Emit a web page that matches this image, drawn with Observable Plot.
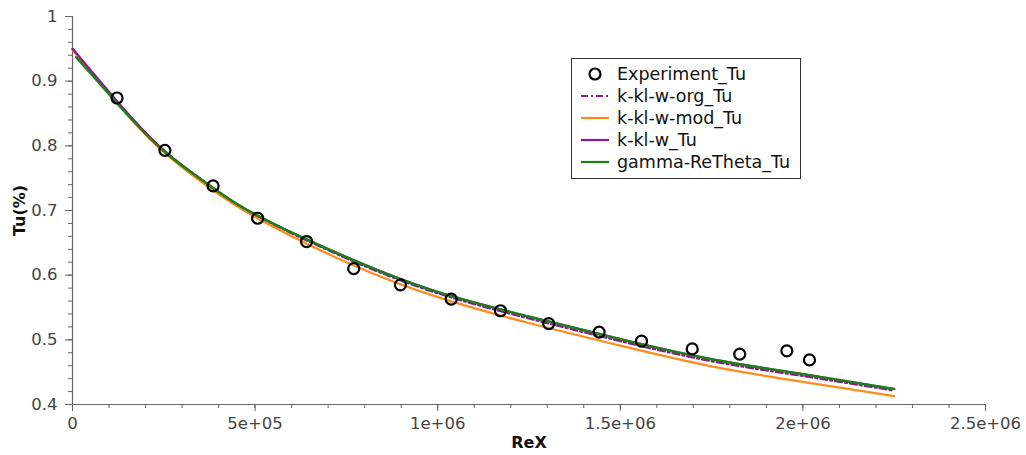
<!DOCTYPE html>
<html>
<head>
<meta charset="utf-8">
<script src="https://cdn.jsdelivr.net/npm/d3@7"></script>
<script src="https://cdn.jsdelivr.net/npm/@observablehq/plot@0.6"></script>
<style>
  html, body { margin: 0; padding: 0; background: #fff; }
  #chart { position: relative; width: 1026px; height: 455px; }
  svg { font-family: "DejaVu Sans", sans-serif; }
</style>
</head>
<body>
<div id="chart"></div>
<script>
// ---- data ----
const expX = [122000, 253000, 385000, 507000, 641000, 770000, 898000, 1037000, 1172000, 1304000, 1442000, 1558000, 1697000, 1827000, 1956000, 2018000];
const expY = [0.874, 0.793, 0.738, 0.688, 0.652, 0.610, 0.585, 0.563, 0.545, 0.525, 0.512, 0.498, 0.486, 0.478, 0.483, 0.469];

const curveX = [0, 125000, 250000, 375000, 500000, 750000, 1000000, 1250000, 1500000, 1750000, 2000000, 2250000];
const greenX = [10000, 125000, 250000, 375000, 500000, 750000, 1000000, 1250000, 1500000, 1750000, 2000000, 2250000];
const orgY   = [0.950, 0.866, 0.793, 0.738, 0.693, 0.626, 0.572, 0.533, 0.498, 0.467, 0.444, 0.4215];
const modY   = [0.948, 0.864, 0.790, 0.735, 0.690, 0.620, 0.566, 0.526, 0.491, 0.459, 0.435, 0.413];
const kklwY  = [0.950, 0.867, 0.793, 0.739, 0.694, 0.628, 0.574, 0.536, 0.501, 0.470, 0.447, 0.424];
const gammaY = [0.937, 0.864, 0.792, 0.739, 0.694, 0.628, 0.574, 0.536, 0.501, 0.470, 0.447, 0.424];

const seriesNames = ["Experiment_Tu", "k-kl-w-org_Tu", "k-kl-w-mod_Tu", "k-kl-w_Tu", "gamma-ReTheta_Tu"];
const seriesColors = ["#000000", "#8b1a8b", "#ff8c1a", "#8b1a8b", "#1a801a"];

const xMajor = [0, 500000, 1000000, 1500000, 2000000, 2500000];
const xLabels = ["0", "5e+05", "1e+06", "1.5e+06", "2e+06", "2.5e+06"];
const yMajor = [0.4, 0.5, 0.6, 0.7, 0.8, 0.9, 1.0];
const yLabels = ["0.4", "0.5", "0.6", "0.7", "0.8", "0.9", "1"];
const xMinor = d3.range(0, 2500001, 100000);
const yMinor = d3.range(0, 31).map(i => 0.4 + i * 0.02);

// ---- tables ----
const exp = expX.map((x, i) => ({x, y: expY[i]}));
const mk = (xsArr, ys) => xsArr.map((x, i) => ({x, y: ys[i]}));
const org = mk(curveX, orgY), mod = mk(curveX, modY), kklw = mk(curveX, kklwY), gamma = mk(greenX, gammaY);

const axisColor = "#666";
const labelColor = "#444";

const plot = Plot.plot({
  width: 1026,
  height: 455,
  marginLeft: 72,
  marginRight: 41,
  marginTop: 16,
  marginBottom: 51,
  style: {fontFamily: "DejaVu Sans, sans-serif", fontSize: "16px", background: "#fff", overflow: "visible"},
  x: {domain: [0, 2500000]},
  y: {domain: [0.4, 1]},
  marks: [
    // minor ticks
    Plot.axisX(xMinor, {tickSize: 4, text: null, stroke: axisColor, label: null}),
    Plot.axisY(yMinor, {tickSize: 4, text: null, stroke: axisColor, label: null}),
    // major ticks
    Plot.axisX(xMajor, {tickSize: 7, text: null, stroke: axisColor, label: null}),
    Plot.axisY(yMajor, {tickSize: 7, text: null, stroke: axisColor, label: null}),
    // tick labels
    Plot.axisX(xMajor, {tickSize: 0, tickPadding: 13, tickFormat: (d, i) => xLabels[i], fill: labelColor, fontSize: 16.5,
      label: "ReX", labelAnchor: "center", labelOffset: 43, labelArrow: "none"}),
    Plot.axisY(yMajor, {tickSize: 0, tickPadding: 15, tickFormat: (d, i) => yLabels[i], fill: labelColor, fontSize: 16.5,
      label: "Tu(%)", labelAnchor: "center", labelOffset: 59, labelArrow: "none"}),
    // axis lines
    Plot.ruleY([0.4], {stroke: axisColor, strokeWidth: 1.2}),
    Plot.ruleX([0], {stroke: axisColor, strokeWidth: 1.2}),
    // curves
    Plot.line(org, {x: "x", y: "y", stroke: seriesColors[1], strokeWidth: 2.2, strokeDasharray: "7,3,2,3", curve: "natural"}),
    Plot.line(mod, {x: "x", y: "y", stroke: seriesColors[2], strokeWidth: 2.2, curve: "natural"}),
    Plot.line(kklw, {x: "x", y: "y", stroke: seriesColors[3], strokeWidth: 2.2, curve: "natural"}),
    Plot.line(gamma, {x: "x", y: "y", stroke: seriesColors[4], strokeWidth: 2.4, curve: "natural"}),
    // experiment
    Plot.dot(exp, {x: "x", y: "y", r: 5.5, stroke: seriesColors[0], strokeWidth: 2.2, fill: "none"})
  ]
});

// bold axis titles
d3.select(plot).selectAll("[aria-label='x-axis label'] text, [aria-label='y-axis label'] text")
  .attr("font-weight", "bold").attr("font-size", 16).attr("fill", "#111");

// legend inside the plot frame
const svg = d3.select(plot);
const lg = svg.append("g").attr("font-family", "DejaVu Sans, sans-serif").attr("font-size", 17.5)
  .attr("text-anchor", "start");
lg.append("rect").attr("x", 571.5).attr("y", 58.5).attr("width", 229).attr("height", 120)
  .attr("fill", "#fff").attr("stroke", "#333").attr("stroke-width", 1);
seriesNames.forEach((name, i) => {
  const cy = 74 + i * 22;
  if (i === 0) {
    lg.append("circle").attr("cx", 595).attr("cy", cy).attr("r", 5.5)
      .attr("fill", "none").attr("stroke", seriesColors[0]).attr("stroke-width", 2.2);
  } else {
    lg.append("line").attr("x1", 581).attr("x2", 609).attr("y1", cy).attr("y2", cy)
      .attr("stroke", seriesColors[i]).attr("stroke-width", 2.2)
      .attr("stroke-dasharray", i === 1 ? "7,3,2,3" : null);
  }
  lg.append("text").attr("x", 617).attr("y", cy).attr("dy", "0.35em").attr("text-anchor", "start")
    .attr("fill", "#111").text(name);
});

document.getElementById("chart").appendChild(plot);
</script>
</body>
</html>
